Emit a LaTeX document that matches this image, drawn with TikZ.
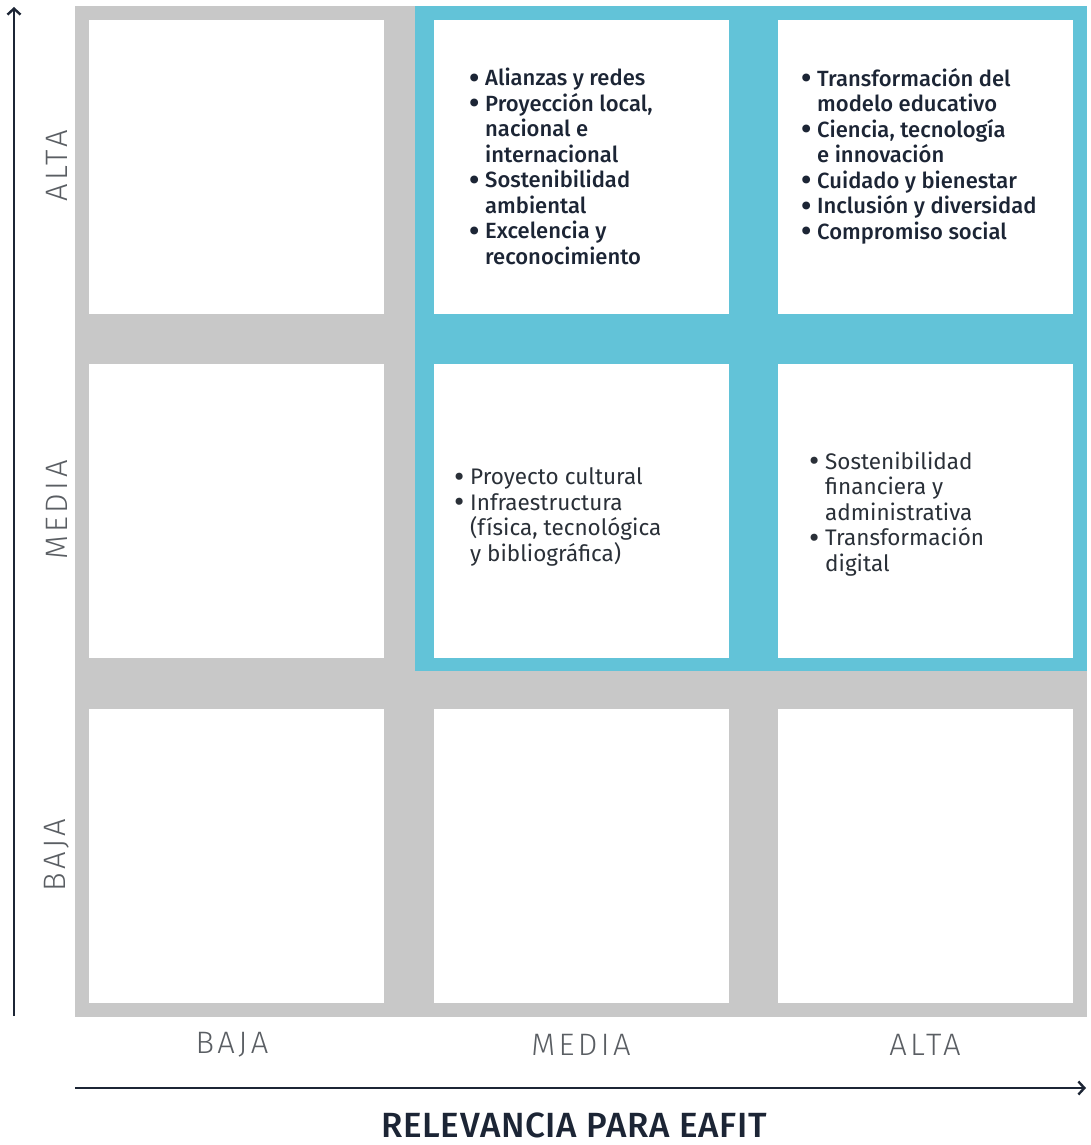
\documentclass[tikz,border=0pt]{standalone}
\usepackage{fontspec}
\setmainfont{Fira Sans}
\newfontfamily\lightfont{Fira Sans}[UprightFont=* Light, LetterSpace=11]
\newfontfamily\medfont{Fira Sans}[UprightFont=* Medium]
\newfontfamily\semifont{Fira Sans}[UprightFont=* Medium, LetterSpace=2]
\usetikzlibrary{arrows.meta}
\definecolor{gridgray}{HTML}{C8C8C8}
\definecolor{teal}{HTML}{62C3D8}
\definecolor{navy}{HTML}{1C2535}
\definecolor{labgray}{HTML}{5A5E63}
\definecolor{txtgray}{HTML}{2A3038}
\newcommand{\bl}{\makebox[16pt][l]{\raisebox{-0.12em}{\scalebox{1.4}{\textbullet}}}}
\newcommand{\ind}{\hspace*{16pt}}
\begin{document}
\begin{tikzpicture}[x=1pt,y=-1pt,
  cell/.style={fill=white,draw=none},
  boldtxt/.style={anchor=base west,align=left,text=navy,inner sep=0pt,font=\medfont\fontsize{22}{25.5}\selectfont},
  regtxt/.style={anchor=base west,align=left,text=txtgray,inner sep=0pt,font=\fontsize{22.5}{25.5}\selectfont},
  axlab/.style={text=labgray,font=\lightfont\fontsize{31}{34}\selectfont,inner sep=0pt},
  axarrow/.style={draw=navy,line width=2pt,-{Straight Barb[length=6pt,width=13pt,line width=2.4pt]}}
]
\useasboundingbox (0,0) rectangle (1090,1145);
% grey background and teal highlight
\fill[gridgray] (75,6) rectangle (1087,1017);
\fill[teal] (415,6) rectangle (1087,671);
% cells
\foreach \cx/\cn in {89/1,434/2,778/3}{
  \foreach \ry/\rn in {20/1,364/2,709/3}{
    \node[cell,minimum width=295pt,minimum height=294pt,anchor=north west,inner sep=0pt] (c\rn\cn) at (\cx,\ry) {};
  }
}
% texts (anchored at the baseline of the last line)
\node[boldtxt] (t12) at (469,264) {\bl Alianzas y redes\\ \bl Proyección local,\\ \ind nacional e\\ \ind internacional\\ \bl Sostenibilidad\\ \ind ambiental\\ \bl Excelencia y\\ \ind reconocimiento};
\node[boldtxt] (t13) at (801,239) {\bl Transformación del\\ \ind modelo educativo\\ \bl Ciencia, tecnología\\ \ind e innovación\\ \bl Cuidado y bienestar\\ \bl Inclusión y diversidad\\ \bl Compromiso social};
\node[regtxt] (t22) at (454,561) {\bl Proyecto cultural\\ \bl Infraestructura\\ \ind (física, tecnológica\\ \ind y bibliográfica)};
\node[regtxt] (t23) at (809,571) {\bl Sostenibilidad\\ \ind financiera y\\ \ind administrativa\\ \bl Transformación\\ \ind digital};
% axis labels
\node[axlab] (xb) at (232,1045) {BAJA};
\node[axlab] (xm) at (581,1045) {MEDIA};
\node[axlab] (xa) at (925,1045) {ALTA};
\node[axlab,rotate=90] (ya) at (57,166) {ALTA};
\node[axlab,rotate=90] (ym) at (57,510) {MEDIA};
\node[axlab,rotate=90] (yb) at (57,855) {BAJA};
% arrows
\coordinate (vs) at (14,1016);
\coordinate (ve) at (14,7);
\coordinate (hs) at (75,1088);
\coordinate (he) at (1086,1088);
\draw[axarrow] (vs) -- (ve);
\draw[axarrow] (hs) -- (he);
% title
\node[text=navy,font=\semifont\fontsize{35}{38}\selectfont,inner sep=0pt] (title) at (574,1125) {RELEVANCIA PARA EAFIT};
\end{tikzpicture}
\end{document}
